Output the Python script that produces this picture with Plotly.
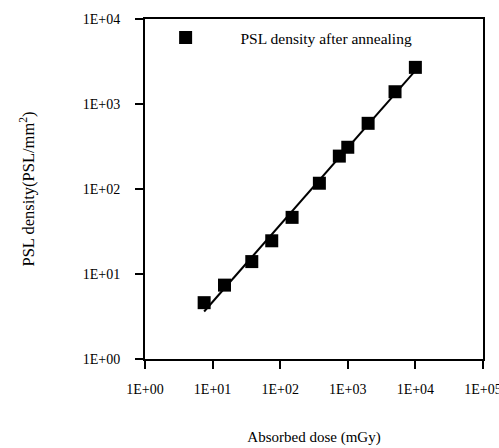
import numpy as np
import plotly.graph_objects as go

dose = [7.5, 15, 38, 75, 150, 380, 750, 1000, 2000, 5000, 10000]
psl = [4.6, 7.4, 14.0, 24.6, 46.4, 117, 244, 310, 593, 1395, 2700]
series_name = "PSL density after annealing"
tick_vals_x = [1, 10, 100, 1000, 10000, 100000]
tick_text_x = ["1E+00", "1E+01", "1E+02", "1E+03", "1E+04", "1E+05"]
tick_vals_y = [1, 10, 100, 1000, 10000]
tick_text_y = ["1E+00", "1E+01", "1E+02", "1E+03", "1E+04"]

# power-law trend line fitted in log-log space
lx = np.log10(dose)
ly = np.log10(psl)
slope, icpt = np.polyfit(lx, ly, 1)
fit_x = np.array([min(dose), max(dose)])
fit_y = 10 ** (icpt + slope * np.log10(fit_x))

FONT = "Liberation Serif"

fig = go.Figure()
fig.add_trace(go.Scatter(x=fit_x, y=fit_y, mode="lines",
                         line=dict(color="black", width=2), showlegend=False))
fig.add_trace(go.Scatter(x=dose, y=psl, mode="markers", name="\u00a0" * 9 + series_name,
                         marker=dict(symbol="square", size=13, color="black")))

axis_common = dict(type="log", showgrid=False, zeroline=False, showline=True,
                   linecolor="black", linewidth=2, mirror=True, automargin=False,
                   ticks="outside", ticklen=8, tickwidth=2, tickcolor="black",
                   ticklabeloverflow="allow",
                   tickfont=dict(family=FONT, size=14, color="black"))

fig.update_layout(
    autosize=True, height=448,
    margin=dict(l=145, r=16, t=19, b=89),
    paper_bgcolor="white", plot_bgcolor="white",
    font=dict(family=FONT, size=15, color="black"),
    xaxis=dict(axis_common, range=[0, 5.0005], tickvals=tick_vals_x, ticktext=tick_text_x,
               ticklabelstandoff=8,
               title=dict(text="Absorbed dose (mGy)", standoff=36,
                          font=dict(family=FONT, size=15))),
    yaxis=dict(axis_common, range=[0, 4.0005], tickvals=tick_vals_y, ticktext=tick_text_y,
               ticklabelstandoff=12,
               title=dict(text="PSL density(PSL/mm<sup>2</sup>)", standoff=44,
                          font=dict(family=FONT, size=16.5))),
    legend=dict(x=0.061, y=0.994, xanchor="left", yanchor="top",
                bgcolor="rgba(0,0,0,0)", font=dict(family=FONT, size=15.5)),
    showlegend=True,
)

fig.write_html(
    "out.html",
    config={"displayModeBar": False, "responsive": True},
    default_width="100%",
    post_script=(
        "document.documentElement.style.overflow='hidden';"
        "document.body.style.overflow='hidden';"
        "document.body.style.margin='0';"
        "Plotly.Plots.resize(document.getElementById('{plot_id}'));"
    ),
)
